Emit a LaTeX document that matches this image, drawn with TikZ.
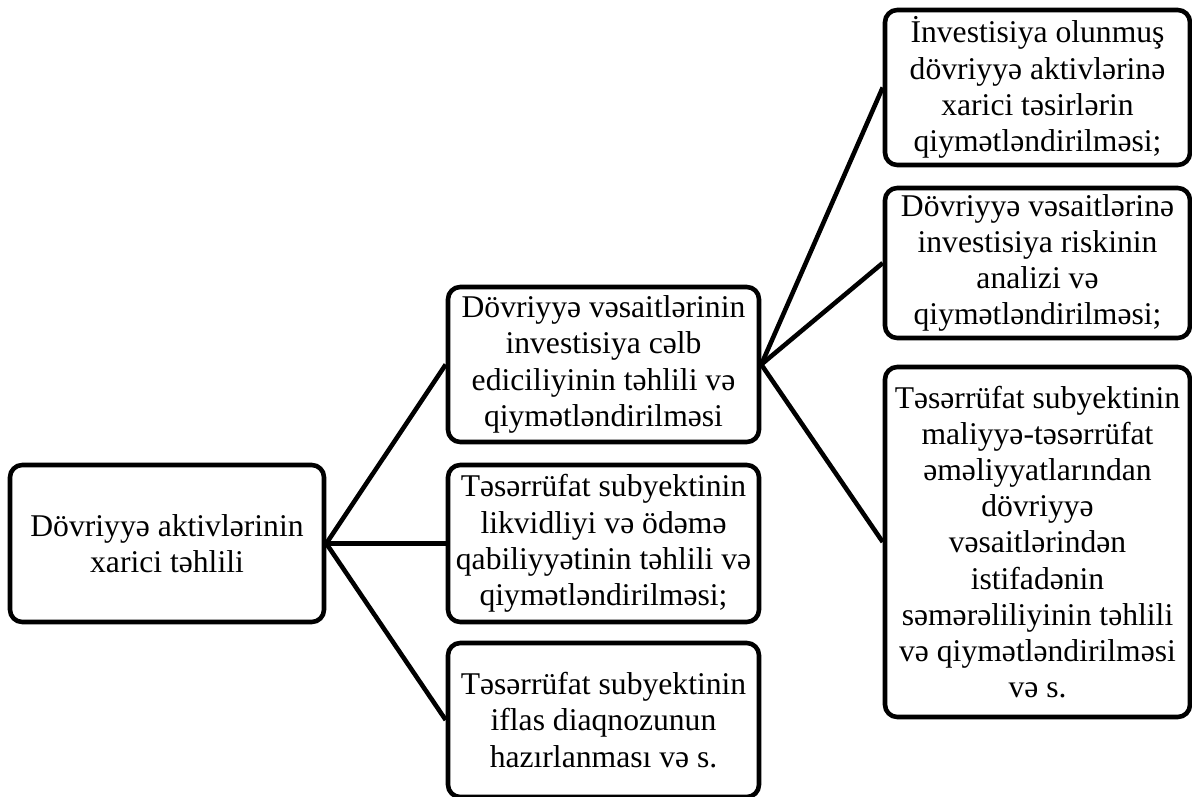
\documentclass[tikz,border=0pt]{standalone}
\usepackage{fontspec}
\setmainfont{Liberation Serif}
\tikzset{
  box/.style={draw, line width=2.6pt, rounded corners=7pt, align=center,
    inner sep=0pt, font=\fontsize{18}{20.6}\selectfont},
  midbox/.style={box, minimum width=6.22cm, minimum height=3.1cm},
  rightbox/.style={box, minimum width=6.1cm, minimum height=3.05cm},
  link/.style={line width=2.6pt}
}
\begin{document}
\begin{tikzpicture}
\useasboundingbox (0,0) rectangle (23.84,15.92);
\clip (0,0) rectangle (23.84,15.92);
% left
\node[box, minimum width=6.28cm, minimum height=3.14cm] (xarici) at (3.34,5.05)
  {Dövriyyə aktivlərinin\\xarici təhlili};
% middle
\node[midbox] (cəlb) at (12.07,8.63)
  {Dövriyyə vəsaitlərinin\\investisiya cəlb\\ediciliyinin təhlili və\\qiymətləndirilməsi};
\node[midbox, minimum height=3.14cm] (likvid) at (12.07,5.05)
  {Təsərrüfat subyektinin\\likvidliyi və ödəmə\\qabiliyyətinin təhlili və\\qiymətləndirilməsi;};
\node[midbox, minimum height=3.08cm] (iflas) at (12.07,1.52)
  {Təsərrüfat subyektinin\\iflas diaqnozunun\\hazırlanması və s.};
% right
\node[rightbox, minimum height=3.1cm] (tesir) at (20.75,14.17)
  {İnvestisiya olunmuş\\dövriyyə aktivlərinə\\xarici təsirlərin\\qiymətləndirilməsi;};
\node[rightbox, minimum height=3.0cm] (risk) at (20.75,10.66)
  {Dövriyyə vəsaitlərinə\\investisiya riskinin\\analizi və\\qiymətləndirilməsi;};
\node[rightbox, minimum height=7.0cm] (semere) at (20.75,5.08)
  {Təsərrüfat subyektinin\\maliyyə-təsərrüfat\\əməliyyatlarından\\dövriyyə\\vəsaitlərindən\\istifadənin\\səmərəliliyinin təhlili\\və qiymətləndirilməsi\\və s.};
\draw[link] (xarici.east) -- (cəlb.west);
\draw[link] (xarici.east) -- (likvid.west);
\draw[link] (xarici.east) -- (iflas.west);
\draw[link] (cəlb.east) -- (tesir.west);
\draw[link] (cəlb.east) -- (risk.west);
\draw[link] (cəlb.east) -- (semere.west);
\end{tikzpicture}
\end{document}
